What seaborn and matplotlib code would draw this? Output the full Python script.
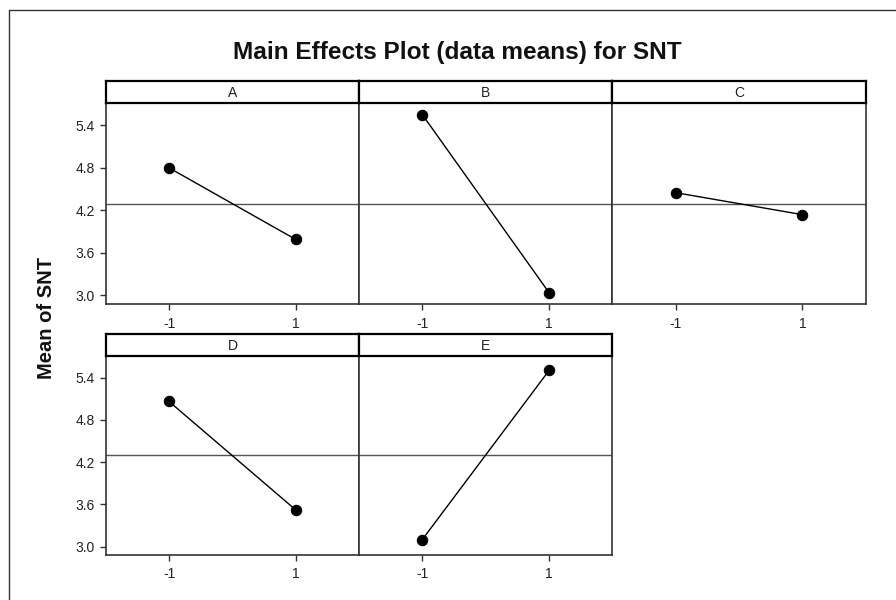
import matplotlib
matplotlib.use("Agg")
import matplotlib.pyplot as plt
from matplotlib.lines import Line2D
import pandas as pd
import seaborn as sns

# Factor means at the low (-1) and high (+1) settings
factors = ["A", "B", "C", "D", "E"]
levels = [-1, 1]
means_A = [4.80, 3.79]
means_B = [5.55, 3.04]
means_C = [4.45, 4.14]
means_D = [5.06, 3.52]
means_E = [3.10, 5.50]
y_ticks = [3.0, 3.6, 4.2, 4.8, 5.4]

all_means = [means_A, means_B, means_C, means_D, means_E]
df = pd.DataFrame(
    [(f, lv, m) for f, ms in zip(factors, all_means) for lv, m in zip(levels, ms)],
    columns=["factor", "level", "mean"],
)
grand_mean = df["mean"].mean()

sns.set_style("white")
plt.rcParams["font.family"] = ["Liberation Sans", "DejaVu Sans"]

W, H = 896, 600
fig = plt.figure(figsize=(W / 100, H / 100), dpi=100)

# panel geometry in pixels
col_x = [105.7, 359.0, 612.3]
col_w = 253.4
rows = [(81.0, 103.3, 304.0), (333.7, 355.7, 555.0)]  # strip top, axes top, axes bottom

def fx(px):
    return px / W

def fy(py):
    return 1 - py / H

edge = "#333333"
for i, f in enumerate(factors):
    r, c = divmod(i, 3)
    s_top, a_top, a_bot = rows[r]
    x0 = col_x[c]
    ax = fig.add_axes([fx(x0), fy(a_bot), col_w / W, (a_bot - a_top) / H])
    sub = df[df["factor"] == f]
    ax.axhline(grand_mean, color="#555555", lw=1.0, zorder=1)
    sns.lineplot(data=sub, x="level", y="mean", ax=ax, color="black",
                 marker="o", markersize=7.5, markeredgecolor="black",
                 linewidth=1.0, zorder=3)
    ax.set_xlim(-2, 2)
    ax.set_ylim(2.88, 5.71)
    ax.set_xticks(levels)
    ax.set_xticklabels([str(v) for v in levels])
    ax.set_yticks(y_ticks)
    ax.set_yticklabels([f"{v:.1f}" for v in y_ticks])
    ax.set_xlabel("")
    ax.set_ylabel("")
    ax.tick_params(direction="out", length=4, width=1, color=edge,
                   labelsize=10, labelcolor="#222222", pad=4)
    ax.tick_params(axis="x", pad=5)
    if c != 0:
        ax.tick_params(axis="y", left=False, labelleft=False)
    else:
        ax.tick_params(axis="y", left=True)
    ax.tick_params(axis="x", bottom=True)
    for sp in ax.spines.values():
        sp.set_color(edge)
        sp.set_linewidth(1.2)
        sp.set_visible(True)

    # strip header above each panel
    sax = fig.add_axes([fx(x0), fy(a_top), col_w / W, (a_top - s_top) / H])
    sax.set_xticks([])
    sax.set_yticks([])
    sax.set_facecolor("white")
    for sp in sax.spines.values():
        sp.set_color("black")
        sp.set_linewidth(1.6)
        sp.set_visible(True)
    sax.text(0.5, 0.45, f, ha="center", va="center", fontsize=10,
             color="#222222", transform=sax.transAxes)

# outer frame (left and top edges)
fig.add_artist(Line2D([fx(9), fx(9)], [0, fy(10)], color=edge, lw=1.0))
fig.add_artist(Line2D([fx(9), 1], [fy(10), fy(10)], color=edge, lw=1.0))

fig.text(fx(457), fy(53), "Main Effects Plot (data means) for SNT",
         ha="center", va="center", fontsize=17.6, fontweight="bold", color="#111111")
fig.text(fx(47), fy(318), "Mean of SNT", ha="center", va="center",
         rotation=90, fontsize=14.5, fontweight="bold", color="#111111")

fig.savefig("out.png", dpi=100, facecolor="white")
